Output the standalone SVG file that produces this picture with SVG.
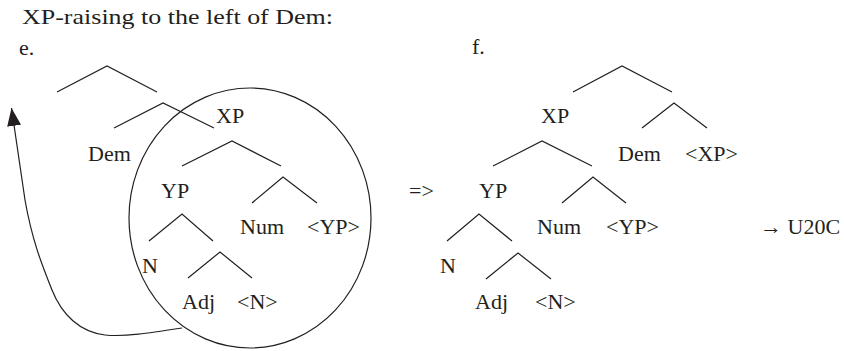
<svg xmlns="http://www.w3.org/2000/svg" width="844" height="351" viewBox="0 0 844 351">
<style>
text{font-family:"Liberation Serif","Times New Roman",serif;font-size:22px;fill:#231f20}
.br{fill:none;stroke:#231f20;stroke-width:1.2}
</style>
<defs>
<marker id="ah" viewBox="0 0 18 14" refX="18" refY="7" markerWidth="18" markerHeight="14" markerUnits="userSpaceOnUse" orient="auto">
<path d="M0,0 L18,7 L0,14 z" fill="#231f20"/>
</marker>
</defs>
<rect width="844" height="351" fill="#fff"/>
<text id="title" x="22" y="24" textLength="311" lengthAdjust="spacingAndGlyphs">XP-raising to the left of Dem:</text>
<text id="label-e" x="19" y="55">e.</text>
<text id="label-f" x="472" y="54">f.</text>
<g id="tree-e">
<g id="e-XP"><text x="216" y="123">XP</text></g>
<g id="e-Dem"><text x="88" y="161">Dem</text></g>
<g id="e-YP"><text x="161" y="198">YP</text></g>
<g id="e-Num"><text x="240" y="234">Num</text></g>
<g id="e-YPtrace"><text x="307" y="234">&lt;YP&gt;</text></g>
<g id="e-N"><text x="142" y="273">N</text></g>
<g id="e-Adj"><text x="182" y="309">Adj</text></g>
<g id="e-Ntrace"><text x="237" y="309">&lt;N&gt;</text></g>
<g id="e-circle"><ellipse cx="250" cy="218" rx="121" ry="130" class="br"/></g>
</g>
<g id="tree-f">
<g id="f-XP"><text x="541" y="123">XP</text></g>
<g id="f-Dem"><text x="618" y="161">Dem</text></g>
<g id="f-XPtrace"><text x="685" y="161">&lt;XP&gt;</text></g>
<g id="f-YP"><text x="479" y="198">YP</text></g>
<g id="f-Num"><text x="537" y="234">Num</text></g>
<g id="f-YPtrace"><text x="606" y="234">&lt;YP&gt;</text></g>
<g id="f-N"><text x="440" y="273">N</text></g>
<g id="f-Adj"><text x="475" y="309">Adj</text></g>
<g id="f-Ntrace"><text x="535" y="309">&lt;N&gt;</text></g>
</g>
<g id="implies"><text x="409" y="198">=&gt;</text></g>
<g id="note"><text x="760" y="234">→ U20C</text></g>
<g id="connectors">
<polyline class="br" points="57,92 107,66 157,92"/>
<polyline class="br" points="114,128 163,103 214,128"/>
<polyline class="br" points="182,166 232,141 281,166"/>
<polyline class="br" points="252,203 283,177 317,203"/>
<polyline class="br" points="149,241 182,214 213,241"/>
<polyline class="br" points="188,278 220,252 252,278"/>
<polyline class="br" points="573,92 622,66 672,92"/>
<polyline class="br" points="642,128 674,103 707,128"/>
<polyline class="br" points="493,166 542,141 592,166"/>
<polyline class="br" points="562,203 593,177 626,203"/>
<polyline class="br" points="447,241 479,214 512,241"/>
<polyline class="br" points="486,279 518,253 551,279"/>
<path class="br" marker-end="url(#ah)" d="M182,328 C150,333 125,337 105,335 C80,332 62,315 52,290 C42,265 32,240 25,200 L11.5,108"/>
</g>
</svg>
